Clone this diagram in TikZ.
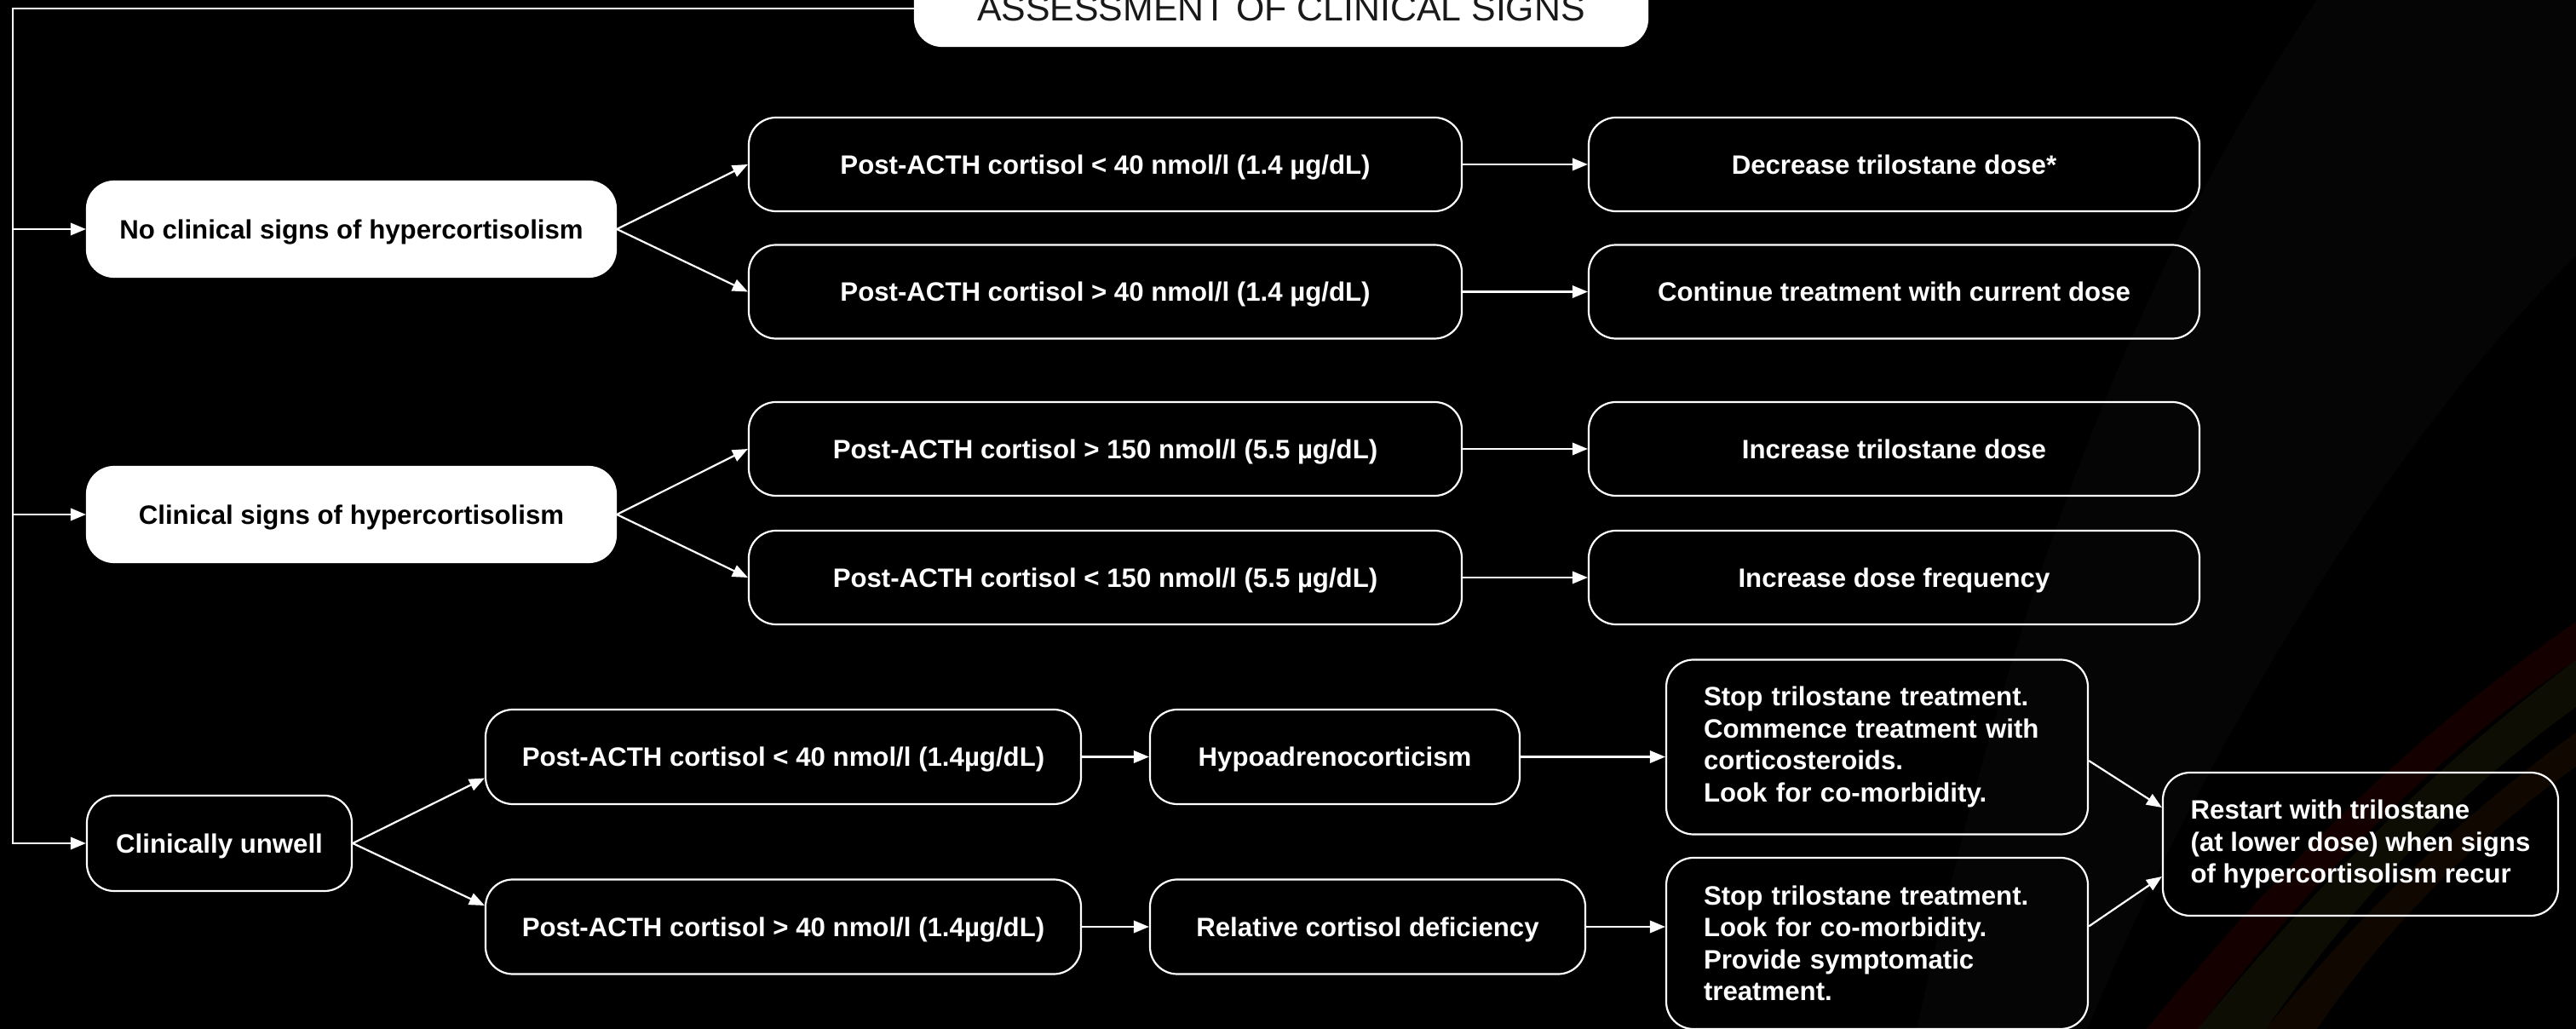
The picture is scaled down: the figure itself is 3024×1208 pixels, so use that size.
\documentclass[tikz,border=0pt]{standalone}
\usepackage{fontspec}
\setmainfont{Liberation Sans}
\usetikzlibrary{arrows.meta,calc}
\begin{document}
\begin{tikzpicture}[x=0.25pt,y=-0.25pt,
  box/.style={draw=white,line width=0.55pt,rounded corners=8pt,text=white,
    font=\fontsize{7.8pt}{9.375pt}\selectfont\bfseries,align=center,inner sep=0pt},
  sbox/.style={box,text depth=0pt},
  wbox/.style={sbox,fill=white,text=black},
  arr/.style={draw=white,line width=0.55pt,-{Triangle[length=4.5pt,width=3.6pt]}}]
\useasboundingbox (0,0) rectangle (3024,1208);
\fill[black] (0,0) rectangle (3024,1208);
% faint background streaks
\begin{scope}
\clip (0,0) rectangle (3024,1208);
\fill[white,opacity=0.02] (2250,1208) .. controls (2330,850) and (2450,400) .. (2720,0) -- (3024,0) -- (3024,300) .. controls (2820,500) and (2600,850) .. (2450,1208) -- cycle;
\fill[red!60!black,opacity=0.14] (2520,1208) .. controls (2690,1000) and (2850,850) .. (3024,730) -- (3024,775) .. controls (2860,885) and (2720,1025) .. (2580,1208) -- cycle;
\fill[olive!70!black,opacity=0.13] (2580,1208) .. controls (2730,1025) and (2870,890) .. (3024,775) -- (3024,830) .. controls (2885,930) and (2770,1050) .. (2660,1208) -- cycle;
\fill[orange!60!black,opacity=0.10] (2660,1208) .. controls (2780,1060) and (2900,950) .. (3024,860) -- (3024,900) .. controls (2910,980) and (2800,1090) .. (2720,1208) -- cycle;
\end{scope}

% title
\node[wbox,minimum width=215pt,minimum height=22pt,font=\fontsize{10.7pt}{12pt}\selectfont,text=black!90] (title) at (1504,10) {ASSESSMENT OF CLINICAL SIGNS};

% first column
\node[wbox,minimum width=155.25pt,minimum height=28pt] (A1) at (412.5,269) {No clinical signs of hypercortisolism};
\node[wbox,minimum width=155.25pt,minimum height=28pt] (A2) at (412.5,604) {Clinical signs of hypercortisolism};
\node[sbox,minimum width=77.75pt,minimum height=28pt] (A3) at (257.5,990) {Clinically unwell};

% second column
\node[sbox,minimum width=209.25pt,minimum height=27.5pt] (B1) at (1297.5,193) {Post-ACTH cortisol < 40 nmol/l (1.4 µg/dL)};
\node[sbox,minimum width=209.25pt,minimum height=27.5pt] (B2) at (1297.5,342.5) {Post-ACTH cortisol > 40 nmol/l (1.4 µg/dL)};
\node[sbox,minimum width=209.25pt,minimum height=27.5pt] (B3) at (1297.5,527) {Post-ACTH cortisol > 150 nmol/l (5.5 µg/dL)};
\node[sbox,minimum width=209.25pt,minimum height=27.5pt] (B4) at (1297.5,678) {Post-ACTH cortisol < 150 nmol/l (5.5 µg/dL)};

% third column
\node[sbox,minimum width=179.25pt,minimum height=27.5pt] (C1) at (2223.5,193) {Decrease trilostane dose*};
\node[sbox,minimum width=179.25pt,minimum height=27.5pt] (C2) at (2223.5,342.5) {Continue treatment with current dose};
\node[sbox,minimum width=179.25pt,minimum height=27.5pt] (C3) at (2223.5,527) {Increase trilostane dose};
\node[sbox,minimum width=179.25pt,minimum height=27.5pt] (C4) at (2223.5,678) {Increase dose frequency};

% bottom branch
\node[sbox,minimum width=174.75pt,minimum height=27.75pt] (D1) at (919.5,888.5) {Post-ACTH cortisol < 40 nmol/l (1.4µg/dL)};
\node[sbox,minimum width=174.75pt,minimum height=27.75pt] (D2) at (919.5,1088) {Post-ACTH cortisol > 40 nmol/l (1.4µg/dL)};
\node[sbox,minimum width=108.5pt,minimum height=27.75pt] (E1) at (1567,888.5) {Hypoadrenocorticism};
\node[sbox,minimum width=127.75pt,minimum height=27.75pt] (E2) at (1605.5,1088) {Relative cortisol deficiency};
\node[box,minimum width=123.75pt,minimum height=51.25pt,text width=101.75pt,align=left] (F1) at (2203.5,877) {Stop trilostane treatment.\\Commence treatment with\\corticosteroids.\\Look for co-morbidity.};
\node[box,minimum width=123.75pt,minimum height=50.25pt,text width=101.75pt,align=left] (F2) at (2203.5,1107.5) {Stop trilostane treatment.\\Look for co-morbidity.\\Provide symptomatic\\treatment.};
\node[box,minimum width=116pt,minimum height=42pt,align=left] (G) at (2771,991) {Restart with trilostane\\(at lower dose) when signs\\of hypercortisolism recur};

% left spine
\coordinate (corner) at (15,10);
\draw[arr] (title.west) -- (corner) |- (A3.west);
\draw[arr] (corner |- A1.west) -- (A1.west);
\draw[arr] (corner |- A2.west) -- (A2.west);

% column 1 -> 2
\draw[arr] (A1.east) -- (B1.west);
\draw[arr] (A1.east) -- (B2.west);
\draw[arr] (A2.east) -- (B3.west);
\draw[arr] (A2.east) -- (B4.west);

% column 2 -> 3
\draw[arr] (B1.east) -- (C1.west);
\draw[arr] (B2.east) -- (C2.west);
\draw[arr] (B3.east) -- (C3.west);
\draw[arr] (B4.east) -- (C4.west);

% bottom branch
\draw[arr] (A3.east) -- ($(D1.west)+(0,25)$);
\draw[arr] (A3.east) -- ($(D2.west)+(0,-25)$);
\draw[arr] (D1.east) -- (E1.west);
\draw[arr] (D2.east) -- (E2.west);
\draw[arr] (E1.east) -- (E1.east -| F1.west);
\draw[arr] (E2.east) -- (E2.east -| F2.west);
\draw[arr] ($(F1.east)+(0,16)$) -- ($(G.west)+(0,-43)$);
\draw[arr] ($(F2.east)+(0,-20)$) -- ($(G.west)+(0,38)$);
\end{tikzpicture}
\end{document}
